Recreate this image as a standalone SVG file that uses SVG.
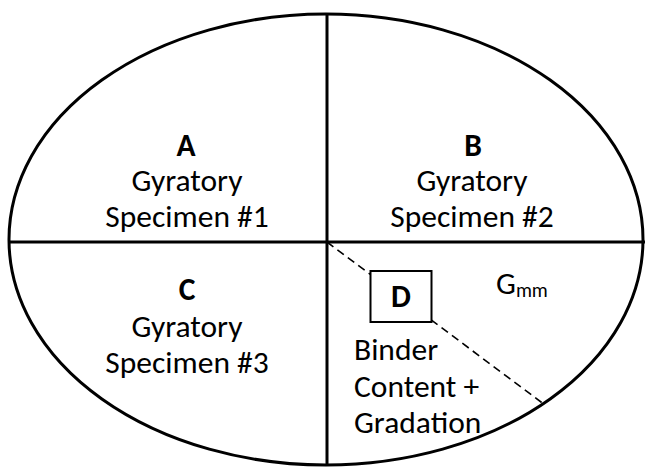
<svg xmlns="http://www.w3.org/2000/svg" width="645" height="468" viewBox="0 0 645 468">
<style>
.t{font-family:Carlito,Lato,"Liberation Sans",sans-serif;font-size:31.5px;fill:#000;text-anchor:middle}
.b{font-weight:bold}
.l{text-anchor:start}
.line{stroke:#000;stroke-width:3;fill:none}
</style>
<rect width="645" height="468" fill="#fff"/>
<g id="connectors">
<ellipse class="line" cx="326" cy="239.5" rx="317" ry="225.5"/>
<line class="line" x1="327" y1="14" x2="327" y2="465"/>
<line class="line" x1="9" y1="242" x2="645" y2="242"/>
<line x1="327" y1="242" x2="545" y2="405" stroke="#000" stroke-width="1.6" stroke-dasharray="8 5"/>
</g>
<g id="nodeA">
<text class="t b" x="186" y="156">A</text>
<text class="t" x="187" y="191">Gyratory</text>
<text class="t" x="187" y="227">Specimen #1</text>
</g>
<g id="nodeB">
<text class="t b" x="473" y="156">B</text>
<text class="t" x="472" y="191">Gyratory</text>
<text class="t" x="472" y="227">Specimen #2</text>
</g>
<g id="nodeC">
<text class="t b" x="187" y="300">C</text>
<text class="t" x="187" y="337">Gyratory</text>
<text class="t" x="187" y="373">Specimen #3</text>
</g>
<g id="nodeD">
<rect x="370.5" y="271" width="61" height="51" fill="#fff" stroke="#000" stroke-width="2"/>
<text class="t b" x="401" y="307">D</text>
<text class="t l" x="354" y="360">Binder</text>
<text class="t l" x="354" y="397">Content +</text>
<text class="t l" x="354" y="433">Gradation</text>
</g>
<g id="nodeGmm">
<text class="t l" x="496" y="294">G<tspan font-size="20" dy="3">mm</tspan></text>
</g>
</svg>
